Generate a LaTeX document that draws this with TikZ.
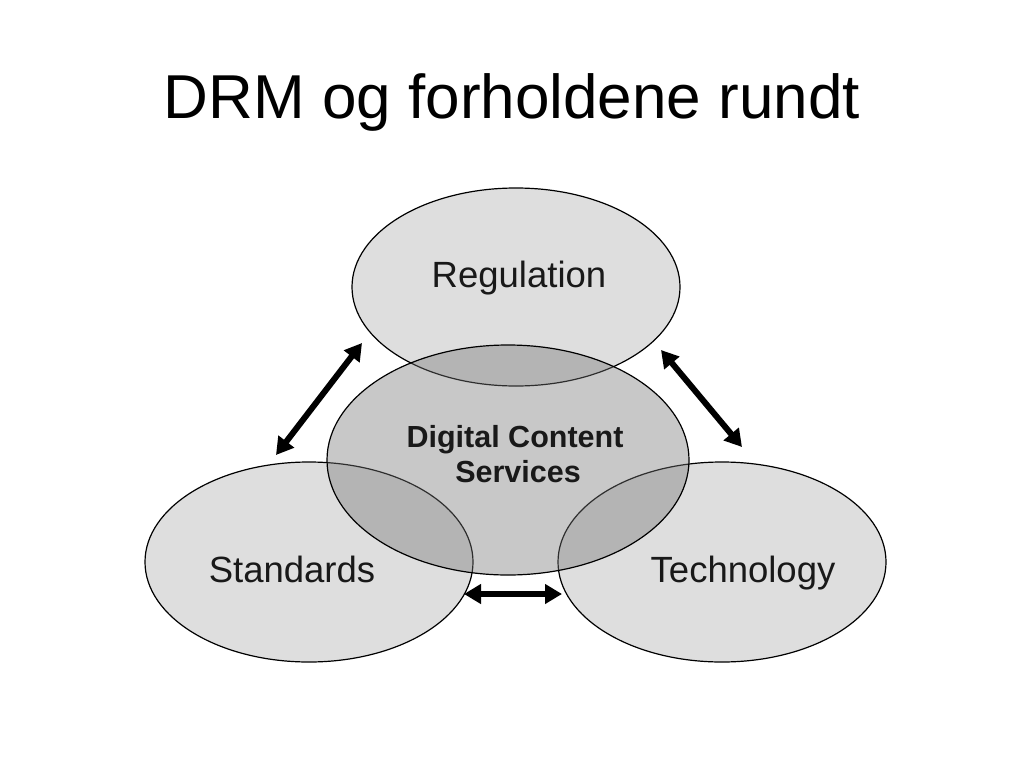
\documentclass[tikz,border=0pt]{standalone}
\usepackage{fontspec}
\setmainfont{Liberation Sans}
\usetikzlibrary{arrows.meta}
\definecolor{outerfill}{RGB}{222,222,222}
\definecolor{centerfill}{RGB}{117,117,117}
\definecolor{txt}{RGB}{25,25,25}
\tikzset{
  outer/.style={draw=black, line width=1.2pt, fill=outerfill},
  inner/.style={draw=black, line width=1.2pt, fill=centerfill, fill opacity=0.4, draw opacity=1},
  lbl/.style={font=\fontsize{36.5}{40}\selectfont, text=txt, anchor=base, inner sep=0pt},
  dblarrow/.style={line width=6pt, {Triangle[length=17pt,width=19pt]}-{Triangle[length=17pt,width=19pt]}}
}
\begin{document}
\begin{tikzpicture}[x=1pt,y=-1pt]
\useasboundingbox (0,0) rectangle (1024,768);
\node[anchor=base, inner sep=0pt] (title) at (512,118) {\fontsize{62}{70}\selectfont DRM og forholdene rundt};
\draw[outer] (516,287) ellipse [x radius=164, y radius=99];
\draw[outer] (309,562) ellipse [x radius=164, y radius=100];
\draw[outer] (722,562) ellipse [x radius=164, y radius=100];
\draw[inner] (508,460) ellipse [x radius=181, y radius=115];
\node[lbl] (reg) at (519,287) {Regulation};
\node[lbl] (std) at (292,582) {Standards};
\node[lbl] (tech) at (743,582) {Technology};
\node[lbl, font=\bfseries\fontsize{30.5}{35}\selectfont] (dcs1) at (515,447) {Digital Content};
\node[lbl, font=\bfseries\fontsize{30.5}{35}\selectfont] (dcs2) at (518,482) {Services};
\coordinate (a1) at (276,455);
\coordinate (a2) at (362,343);
\coordinate (b1) at (661,350);
\coordinate (b2) at (742,447);
\coordinate (c1) at (464,594);
\coordinate (c2) at (562,594);
\draw[dblarrow] (a1) -- (a2);
\draw[dblarrow] (b1) -- (b2);
\draw[dblarrow] (c1) -- (c2);
\end{tikzpicture}
\end{document}
